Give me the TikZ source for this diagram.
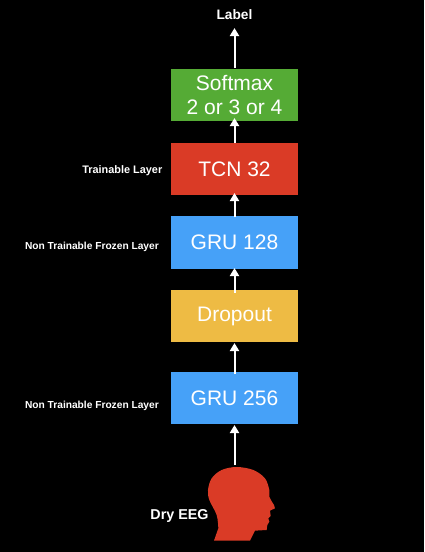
\documentclass[tikz,border=0pt]{standalone}
\usepackage{fontspec}
\setmainfont{Liberation Sans}
\definecolor{cgreen}{HTML}{55AB35}
\definecolor{cred}{HTML}{DA3B26}
\definecolor{cblue}{HTML}{46A1F8}
\definecolor{cyellow}{HTML}{EEBB44}
\usetikzlibrary{arrows.meta}
\begin{document}
\begin{tikzpicture}[x=1pt,y=-1pt,
  layerbox/.style={minimum width=127pt,minimum height=52pt,inner sep=0pt,outer sep=0pt,text=white,align=center,font=\fontsize{21}{24}\selectfont},
  sidelabel/.style={text=white,inner sep=0pt,font=\bfseries\fontsize{10.2}{12}\selectfont,anchor=east},
  toplabel/.style={text=white,inner sep=0pt,font=\bfseries\fontsize{13.7}{16}\selectfont},
  flow/.style={white,line width=2pt,-{Triangle[width=9pt,length=8pt]}}]
\fill[black] (0,0) rectangle (424,552);
\useasboundingbox (0,0) rectangle (424,552);
\node[layerbox,fill=cgreen] (soft) at (234.5,95) {Softmax\\2 or 3 or 4};
\node[layerbox,fill=cred] (tcn) at (234.5,169) {TCN 32};
\node[layerbox,fill=cblue,minimum height=53pt] (gruA) at (234.5,242.5) {GRU 128};
\node[layerbox,fill=cyellow] (drop) at (234.5,316) {Dropout};
\node[layerbox,fill=cblue] (gruB) at (234.5,398) {GRU 256};
\node[toplabel] (label) at (234.5,14.5) {Label};
\node[sidelabel,font=\bfseries\fontsize{10.9}{12}\selectfont] (ltcn) at (162.5,170.5) {Trainable Layer};
\node[sidelabel] (lgruA) at (159,246.5) {Non Trainable Frozen Layer};
\node[sidelabel] (lgruB) at (159,405.5) {Non Trainable Frozen Layer};
\node[toplabel,font=\bfseries\fontsize{14.3}{16}\selectfont] (dry) at (179.5,515.5) {Dry EEG};
\begin{scope}[shift={(150,440)},x=0.3333pt,y=-0.3333pt]
\fill[cred] plot[smooth,tension=0.55] coordinates {(205,265) (200,225) (178,180) (174,150) (185,115) (215,90) (260,81) (310,90) (345,115) (358,150) (358,170) (372,195)}
  -- (375,205) -- (360,212) -- (362,228) -- (355,235) -- (358,245) -- (352,255) -- (350,270) -- (315,272) -- (300,302) -- (192,302) -- cycle;
\end{scope}
\coordinate (headtop) at (234.5,465);
\coordinate (labelbase) at (234.5,28);
\draw[flow] (headtop) -- ([yshift=-1pt]gruB.south);
\draw[flow] ([yshift=-2pt]gruB.north) -- ([yshift=-1pt]drop.south);
\draw[flow] ([yshift=-3pt]drop.north) -- ([yshift=1pt]gruA.south);
\draw[flow] ([yshift=-1pt]gruA.north) -- ([yshift=2pt]tcn.south);
\draw[flow] (tcn.north) -- ([yshift=3pt]soft.south);
\draw[flow] ([yshift=1pt]soft.north) -- (labelbase);
\end{tikzpicture}
\end{document}
